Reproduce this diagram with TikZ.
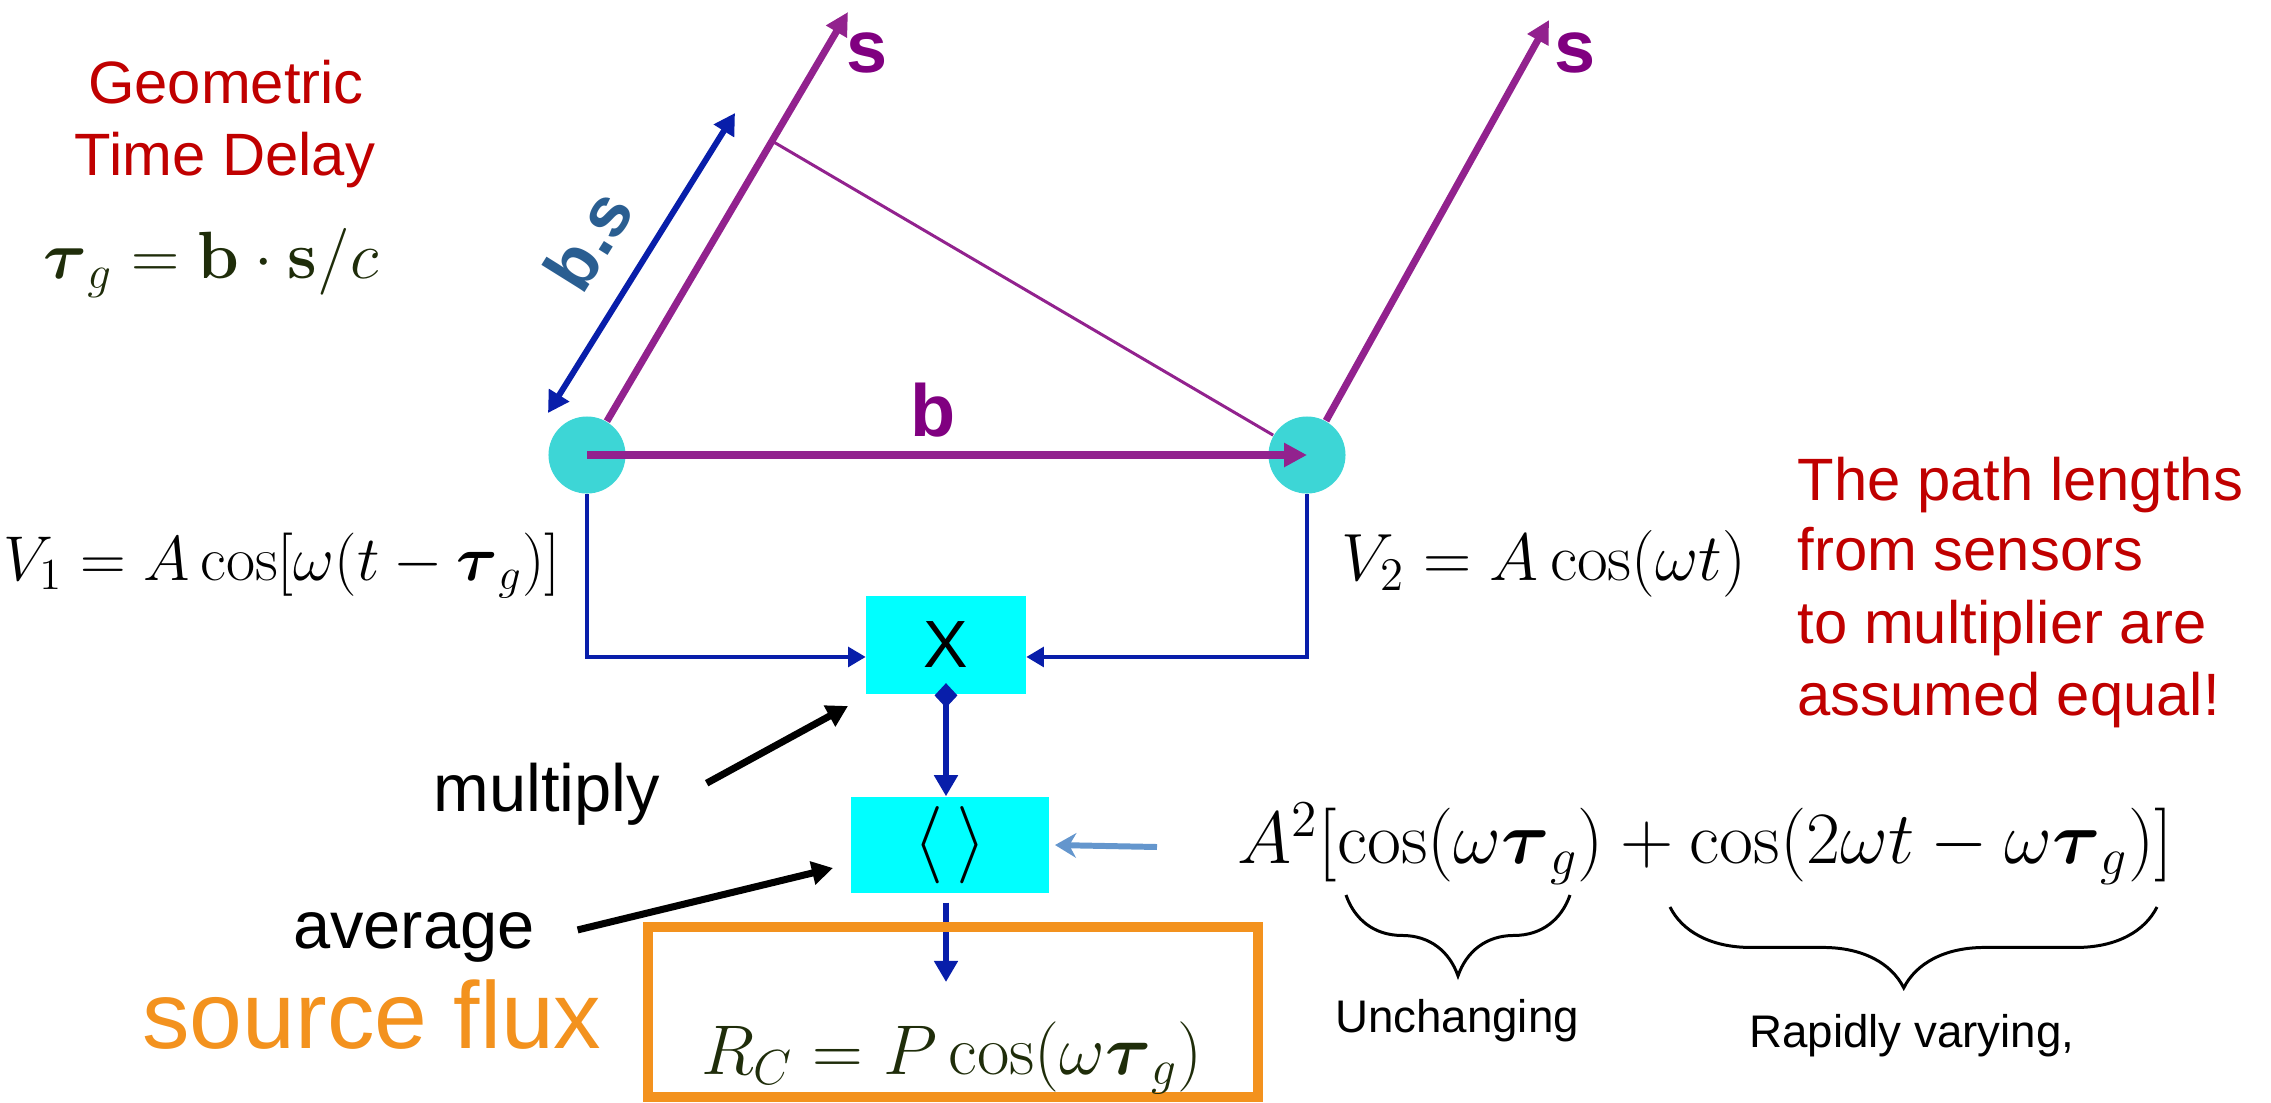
\RequirePackage{fix-cm}
\documentclass[tikz,border=0pt]{standalone}
\usepackage{amsmath}
\usepackage[no-math]{fontspec}
\setmainfont{Liberation Sans}
\usepackage{xcolor}
\usepackage{tikz}
\usetikzlibrary{arrows.meta,decorations.pathreplacing}

\definecolor{sensorcyan}{RGB}{61,214,214}
\definecolor{boxcyan}{RGB}{0,255,255}
\definecolor{vecpurple}{RGB}{146,34,142}
\definecolor{labpurple}{RGB}{128,0,128}
\definecolor{wireblue}{RGB}{8,30,170}
\definecolor{bsblue}{RGB}{42,94,145}
\definecolor{feedblue}{RGB}{100,150,205}
\definecolor{titlered}{RGB}{192,0,0}
\definecolor{fluxorange}{RGB}{243,146,30}
\definecolor{eqolive}{RGB}{31,45,10}

\begin{document}
\begin{tikzpicture}[x=0.01cm,y=-0.01cm,
  sensor/.style={circle,fill=sensorcyan,minimum size=0.77cm,inner sep=0pt},
  opbox/.style={rectangle,fill=boxcyan,inner sep=0pt},
  vec/.style={vecpurple,line width=2pt,-{Triangle[length=6.5pt,width=6.5pt]}},
  wire/.style={wireblue,line width=1.3pt,-{Triangle[length=5pt,width=5.5pt]}},
  pointer/.style={black,line width=2pt,-{Triangle[length=6pt,width=6.5pt]}},
  txt/.style={inner sep=0pt,anchor=base}]
  \useasboundingbox (0,0) rectangle (2271,1102);

  % sensors, source directions and baseline
  \node[sensor] (ant1) at (587,455) {};
  \node[sensor] (ant2) at (1307,455) {};
  \coordinate (src1) at (848,12);
  \coordinate (src2) at (1549,20);
  \coordinate (foot) at (772,141);
  \draw[vec] (ant1) -- (src1);
  \draw[vec] (ant2) -- (src2);
  \draw[vecpurple,line width=0.85pt] (foot) -- (ant2);
  \draw[vec] (ant1.center) -- (ant2.center);
  \node[txt,labpurple,font=\fontsize{21}{25}\selectfont\bfseries] (blbl) at (933,436) {b};
  \node[txt,labpurple,font=\fontsize{21}{25}\selectfont\bfseries] (slbl1) at (867,72) {s};
  \node[txt,labpurple,font=\fontsize{21}{25}\selectfont\bfseries] (slbl2) at (1575,72) {s};

  % projected path b.s
  \coordinate (bs1) at (548,413);
  \coordinate (bs2) at (735,113);
  \draw[wireblue,line width=1.7pt,{Triangle[length=6pt,width=6.5pt]}-{Triangle[length=6pt,width=6.5pt]}] (bs1) -- (bs2);
  \node[bsblue,rotate=58,inner sep=0pt,font=\fontsize{20}{24}\selectfont\bfseries] (bslbl) at (588,240) {b.s};

  % correlator
  \node[opbox,minimum width=1.59cm,minimum height=0.98cm,font=\fontsize{19}{23}\selectfont] (mult) at (946,645) {X};
  \node[opbox,minimum width=1.98cm,minimum height=0.96cm,font=\fontsize{22}{26}\selectfont] (avg) at (950,845) {$\langle\,\rangle$};
  \draw[wire] (ant1.south) |- ([yshift=-3.4pt]mult.west);
  \draw[wire] (ant2.south) |- ([yshift=-3.4pt]mult.east);
  \draw[wireblue,line width=1.7pt,{Diamond[length=7pt,width=6.5pt]}-{Triangle[length=6pt,width=6.5pt]}] ([yshift=3.3pt]mult.south) -- (mult.south |- avg.north);
  \coordinate (rtip) at (946,982);
  \coordinate (feed) at (1157,847);
  \draw[wireblue,line width=1.7pt,-{Triangle[length=6pt,width=6.5pt]}] ([yshift=-2.5pt]rtip |- avg.south) -- (rtip);
  \draw[feedblue,line width=1.7pt,-{Stealth[length=6pt,width=7pt]}] (feed) -- ([xshift=1.5pt]avg.east);

  % output
  \node[draw=fluxorange,line width=2.85pt,minimum width=6.1cm,minimum height=1.7cm,inner sep=0pt] (resbox) at (953,1012) {};
  \node[txt,eqolive,font=\fontsize{20}{24}\selectfont] (rc) at (952,1074) {$R_C = P\cos(\omega\boldsymbol{\tau}_g)$};

  % labels at left
  \node[txt,titlered,font=\fontsize{17}{20}\selectfont] (geo1) at (226,103) {Geometric};
  \node[txt,titlered,font=\fontsize{17}{20}\selectfont] (geo2) at (225,175) {Time Delay};
  \node[txt,eqolive,font=\fontsize{19}{23}\selectfont] (taueq) at (211,278) {$\boldsymbol{\tau}_g = \mathbf{b}\cdot\mathbf{s}/c$};
  \node[txt,font=\fontsize{18}{22}\selectfont] (v1) at (282,580) {$V_1 = A\cos[\omega(t-\boldsymbol{\tau}_g)]$};
  \node[txt,font=\fontsize{19}{23}\selectfont] (v2) at (1544,580) {$V_2 = A\cos(\omega t)$};
  \node[txt,font=\fontsize{19}{23}\selectfont] (multlbl) at (547,811) {multiply};
  \node[txt,font=\fontsize{19}{23}\selectfont] (avglbl) at (414,948) {average};
  \node[txt,fluxorange,font=\fontsize{27}{32}\selectfont] (fluxlbl) at (372,1048) {source flux};
  \coordinate (multtip) at (848,706);
  \coordinate (avgtip) at (833,868);
  \draw[pointer] ([shift={(13pt,3pt)}]multlbl.east) -- (multtip);
  \draw[pointer] ([shift={(12pt,2pt)}]avglbl.east) -- (avgtip);

  % note at right
  \node[txt,anchor=base west,titlered,font=\fontsize{17}{20}\selectfont] (note1) at (1797,500) {The path lengths};
  \node[txt,anchor=base west,titlered,font=\fontsize{17}{20}\selectfont] (note2) at (1797,570) {from sensors};
  \node[txt,anchor=base west,titlered,font=\fontsize{17}{20}\selectfont] (note3) at (1797,643) {to multiplier are};
  \node[txt,anchor=base west,titlered,font=\fontsize{17}{20}\selectfont] (note4) at (1797,715) {assumed equal!};

  % product of the two voltages
  \node[txt,anchor=base west,font=\fontsize{21}{25}\selectfont] (sumeq) at (1237,863) {$A^2[\cos(\omega\boldsymbol{\tau}_g) + \cos(2\omega t - \omega\boldsymbol{\tau}_g)]$};
  \coordinate (br1a) at (1346,895);
  \coordinate (br1b) at (1570,895);
  \coordinate (br2a) at (1670,907);
  \coordinate (br2b) at (2157,907);
  \draw[line width=0.85pt,decorate,decoration={brace,mirror,amplitude=23pt}] (br1a) -- (br1b);
  \draw[line width=0.85pt,decorate,decoration={brace,mirror,amplitude=23pt,aspect=0.48}] (br2a) -- (br2b);
  \node[txt,font=\fontsize{13}{16}\selectfont] (slowlbl) at (1457,1032) {Unchanging};
  \node[txt,font=\fontsize{13}{16}\selectfont] (fastlbl) at (1912,1047) {Rapidly varying,};
\end{tikzpicture}
\end{document}
